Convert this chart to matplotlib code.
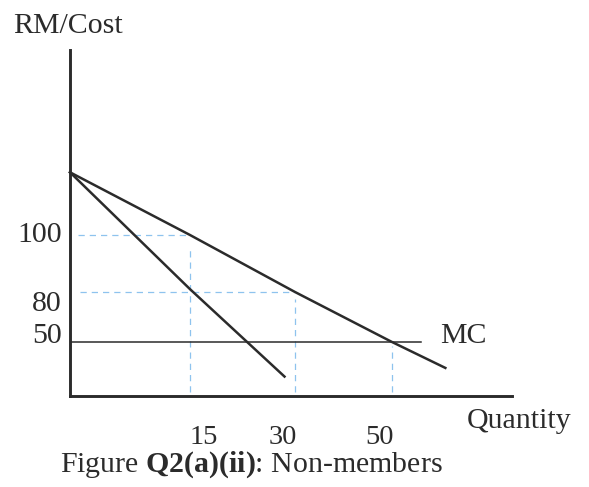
import matplotlib
matplotlib.use("Agg")
import matplotlib.pyplot as plt
import numpy as np

# Sketch values (diagram is not drawn to scale)
q_ticks = [15, 30, 50]
p_ticks = [100, 80, 50]
mc_level = 50

demand_q = [0, 15, 30, 50, 61]
demand_p = [122, 100, 80, 50, 26]

mr_q = [0, 15, 28.5]
mr_p = [122, 81, 18]

mc_q = [0, 56]

# piecewise mapping of values onto the sketch (pixels from origin)
q_knots = [-10, 0, 15, 30, 50, 100]
u_knots = [-80, 0, 120, 225, 322, 564.5]
p_knots = [-10, 0, 50, 80, 100, 200]
v_knots = [-11, 0, 54, 104, 161, 446]


def fx(q):
    return np.interp(q, q_knots, u_knots)


def ix(u):
    return np.interp(u, u_knots, q_knots)


def fy(p):
    return np.interp(p, p_knots, v_knots)


def iy(v):
    return np.interp(v, v_knots, p_knots)


plt.rcParams["font.family"] = ["Liberation Serif", "DejaVu Serif"]
plt.rcParams["mathtext.fontset"] = "custom"
plt.rcParams["mathtext.rm"] = "Liberation Serif"
plt.rcParams["mathtext.bf"] = "Liberation Serif:bold"

W, H = 589, 487
ox, oy = 70, 396
fig = plt.figure(figsize=(W / 100, H / 100), dpi=100)
ax = fig.add_axes([ox / W, (H - oy) / H, 442 / W, 346 / H])
ax.set_xscale("function", functions=(fx, ix))
ax.set_yscale("function", functions=(fy, iy))
ax.set_xlim(0, ix(442))
ax.set_ylim(0, iy(346))
ax.patch.set_alpha(0)

ink = "#2b2b2b"
guide = "#8ec3ee"
fs = 21.5

for s in ["top", "right"]:
    ax.spines[s].set_visible(False)
for s in ["left", "bottom"]:
    ax.spines[s].set_linewidth(2.1)
    ax.spines[s].set_color(ink)
ax.set_xticks([])
ax.set_yticks([])

# dashed guides
ax.plot([1, q_ticks[0]], [p_ticks[0], p_ticks[0]], color=guide, lw=0.9, ls=(0, (5, 4)))
ax.plot([1.3, q_ticks[1]], [p_ticks[1], p_ticks[1]], color=guide, lw=0.9, ls=(0, (5, 4)))
for q, p in zip(q_ticks, p_ticks):
    ax.plot([q, q], [4, p - 4], color=guide, lw=0.9, ls=(0, (5, 4)))

ax.plot(demand_q, demand_p, color=ink, lw=1.8, clip_on=False)
ax.plot(mr_q, mr_p, color=ink, lw=1.8, clip_on=False)
ax.plot(mc_q, [mc_level] * len(mc_q), color=ink, lw=1.1)

# tick labels (hand placed as in the sketch)
x_off = [14, -12, -12]
for q, dx in zip(q_ticks, x_off):
    ax.annotate(str(q), (q, 0), xytext=(dx, -48), textcoords="offset pixels",
                ha="center", va="baseline", fontsize=20.5, color=ink,
                annotation_clip=False)
y_off = [-7, -19, -1]
for p, dy in zip(p_ticks, y_off):
    ax.annotate(str(p), (0, p), xytext=(-8, dy), textcoords="offset pixels",
                ha="right", va="baseline", fontsize=fs, color=ink,
                annotation_clip=False)

ax.annotate("MC", (mc_q[-1], mc_level), xytext=(19, -1), textcoords="offset pixels",
            ha="left", va="baseline", fontsize=fs, color=ink, annotation_clip=False)

fig.text(13 / W, 1 - 33 / H, "RM/Cost", fontsize=fs, color=ink, va="baseline")
fig.text(467 / W, 1 - 428 / H, "Quantity", fontsize=fs, color=ink, va="baseline")
fig.text(60 / W, 1 - 472 / H, r"Figure $\mathbf{Q2(a)(ii)}$: Non-members",
         fontsize=fs, color=ink, va="baseline")

fig.savefig("out.png", dpi=100)
